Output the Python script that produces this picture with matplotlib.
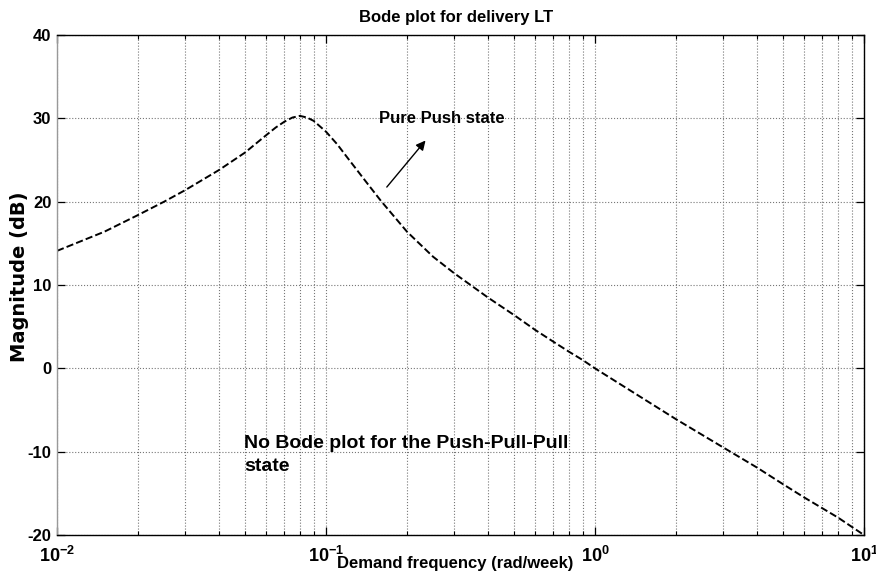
import matplotlib
matplotlib.use("Agg")
import matplotlib.pyplot as plt
from matplotlib.ticker import FixedLocator, FixedFormatter, NullFormatter

# magnitude curve (pure push state)
freq = [0.01, 0.015, 0.02, 0.025, 0.03, 0.04, 0.05, 0.06, 0.065, 0.07, 0.075,
        0.08, 0.085, 0.09, 0.1, 0.11, 0.12, 0.14, 0.16, 0.2, 0.25, 0.3, 0.4,
        0.5, 0.6, 0.7, 0.8, 0.9, 1.0, 2.0, 3.0, 4.0, 5.0, 6.0, 8.0, 10.0]
mag_db = [14.1, 16.4, 18.4, 20.0, 21.4, 23.8, 25.9, 28.0, 28.9, 29.6, 30.1,
          30.3, 30.1, 29.7, 28.4, 26.9, 25.3, 22.5, 20.1, 16.4, 13.4, 11.4, 8.5,
          6.4, 4.6, 3.2, 2.0, 1.0, 0.0, -6.1, -9.5, -11.9, -13.9, -15.5, -17.9, -20.0]

x_ticks = [0.01, 0.1, 1.0, 10.0]
x_ticklabels = [r"$\mathbf{10^{-2}}$", r"$\mathbf{10^{-1}}$",
                r"$\mathbf{10^{0}}$", r"$\mathbf{10^{1}}$"]
y_ticks = [-20, -10, 0, 10, 20, 30, 40]

plt.rcParams["font.family"] = ["Liberation Sans", "DejaVu Sans"]
plt.rcParams["font.weight"] = "bold"
plt.rcParams["mathtext.fontset"] = "custom"
plt.rcParams["mathtext.bf"] = "Liberation Sans:bold"
plt.rcParams["mathtext.rm"] = "Liberation Sans:bold"

fig = plt.figure(figsize=(8.76, 5.88), dpi=100)
ax = fig.add_axes([0.0651, 0.0901, 0.9212, 0.8503])

ax.semilogx(freq, mag_db, ls="--", color="black", lw=1.4)

ax.set_xlim(0.01, 10)
ax.set_ylim(-20, 40)
ax.xaxis.set_major_locator(FixedLocator(x_ticks))
ax.xaxis.set_major_formatter(FixedFormatter(x_ticklabels))
ax.xaxis.set_minor_formatter(NullFormatter())
ax.set_yticks(y_ticks)
ax.set_yticklabels([str(v) for v in y_ticks])

ax.grid(which="major", axis="both", ls=":", color="#777777", lw=0.8)
ax.grid(which="minor", axis="x", ls=":", color="#777777", lw=0.8)
ax.tick_params(which="major", direction="in", length=6, width=0.9,
               labelsize=12, top=True, right=True)
ax.tick_params(which="minor", direction="in", length=3, width=0.8,
               top=True, right=True)
ax.tick_params(axis="x", pad=8, labelsize=13)
ax.tick_params(axis="y", pad=4)
for s in ax.spines.values():
    s.set_linewidth(1.0)
ax.spines["left"].set_color("#999999")

ax.set_xlabel("Demand frequency (rad/week)", fontsize=12, fontweight="bold")
ax.xaxis.set_label_coords(0.494, -0.056)
ax.xaxis.label.set_va("center")
ax.set_ylabel("Magnitude (dB)", fontsize=14, fontweight="bold",
              family="DejaVu Sans")
ax.yaxis.set_label_coords(-0.047, 0.516)
ax.yaxis.label.set_va("center")

ax.text(0.494, 1.036, "Bode plot for delivery LT", transform=ax.transAxes,
        ha="center", va="center", fontsize=12, fontweight="bold")

ax.annotate("", xy=(0.238, 27.6), xytext=(0.1657, 21.5),
            arrowprops=dict(arrowstyle="-|>", color="black", lw=1.0,
                            mutation_scale=14))
ax.text(0.157, 30, "Pure Push state", ha="left", va="center",
        fontsize=12, fontweight="bold")
ax.text(0.0496, -8.0, "No Bode plot for the Push-Pull-Pull\nstate", ha="left",
        va="top", fontsize=14, fontweight="bold", linespacing=1.45)

fig.savefig("out.png", dpi=100)
